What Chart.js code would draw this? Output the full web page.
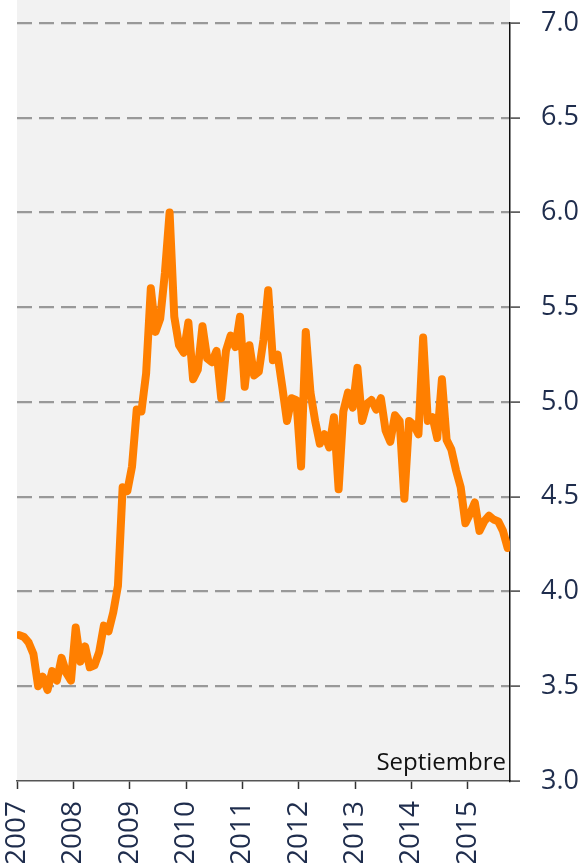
<!DOCTYPE html>
<html>
<head>
<meta charset="utf-8">
<script src="https://cdn.jsdelivr.net/npm/chart.js@4.4.1/dist/chart.umd.min.js"></script>
<style>
  html, body { margin: 0; padding: 0; background: #fff; }
  #wrap { width: 583px; height: 863px; }
</style>
</head>
<body>
<div id="wrap"><canvas id="myChart" width="583" height="863"></canvas></div>
<script>
// monthly values, Jan 2007 .. Sep 2015
const values = [
  3.77, 3.76, 3.73, 3.67, 3.50, 3.55, 3.48, 3.58, 3.53, 3.65, 3.57, 3.53,
  3.81, 3.63, 3.71, 3.60, 3.61, 3.68, 3.82, 3.79, 3.89, 4.03, 4.55, 4.53,
  4.66, 4.96, 4.95, 5.15, 5.60, 5.37, 5.44, 5.68, 6.00, 5.45, 5.30, 5.26,
  5.42, 5.12, 5.17, 5.40, 5.23, 5.21, 5.27, 5.02, 5.27, 5.35, 5.29, 5.45,
  5.08, 5.30, 5.14, 5.16, 5.33, 5.59, 5.22, 5.25, 5.08, 4.90, 5.02, 5.01,
  4.66, 5.37, 5.05, 4.90, 4.78, 4.83, 4.76, 4.92, 4.54, 4.95, 5.05, 4.97,
  5.18, 4.90, 4.99, 5.01, 4.96, 5.02, 4.85, 4.79, 4.93, 4.90, 4.49, 4.90,
  4.88, 4.83, 5.34, 4.90, 4.92, 4.81, 5.12, 4.80, 4.75, 4.64, 4.55, 4.36,
  4.41, 4.47, 4.32, 4.37, 4.40, 4.38, 4.37, 4.32, 4.23
];
const years = ["2007", "2008", "2009", "2010", "2011", "2012", "2013", "2014", "2015"];
const yTicks = [3.0, 3.5, 4.0, 4.5, 5.0, 5.5, 6.0, 6.5, 7.0];
const note = "Septiembre";

const navy = "#1f2d4d";
const font = "'Open Sans', 'DejaVu Sans', sans-serif";

// gray plot background + the month note
const plotBg = {
  id: "plotBg",
  beforeDraw(chart) {
    const { ctx, chartArea } = chart;
    ctx.save();
    ctx.fillStyle = "#f2f2f2";
    ctx.fillRect(chartArea.left, 0, chartArea.right - chartArea.left, chartArea.bottom);
    ctx.restore();
  },
  afterDraw(chart) {
    const { ctx, chartArea } = chart;
    ctx.save();
    ctx.font = "24px " + font;
    ctx.fillStyle = "#111";
    ctx.textAlign = "right";
    ctx.textBaseline = "alphabetic";
    ctx.fillText(note, chartArea.right - 4, chartArea.bottom - 11);
    ctx.restore();
  }
};

const ctx = document.getElementById("myChart").getContext("2d");
new Chart(ctx, {
  type: "line",
  data: {
    datasets: [{
      data: values.map((v, i) => ({ x: i, y: v })),
      borderColor: "#ff7f00",
      borderWidth: 8,
      pointRadius: 0,
      tension: 0,
      borderJoinStyle: "round",
      borderCapStyle: "round",
      clip: 0
    }]
  },
  options: {
    responsive: false,
    animation: false,
    devicePixelRatio: 1,
    layout: { padding: { left: 17, top: 23, right: 0, bottom: 0 } },
    plugins: { legend: { display: false }, tooltip: { enabled: false } },
    scales: {
      x: {
        type: "linear",
        min: -0.5,
        max: 104.5,
        afterBuildTicks: (scale) => {
          scale.ticks = years.map((y, k) => ({ value: -0.5 + 12 * k }));
        },
        afterFit: (scale) => {
          scale.height = 82;
          scale.paddingLeft = 0;
          scale.paddingRight = 0;
        },
        ticks: {
          autoSkip: false,
          minRotation: 90,
          maxRotation: 90,
          padding: 12,
          color: navy,
          font: { family: font, size: 28 },
          callback: (v, i) => years[i]
        },
        grid: {
          drawOnChartArea: false,
          drawTicks: true,
          tickLength: 8,
          tickColor: "#333",
          tickWidth: 1.5
        },
        border: { display: true, color: "#555", width: 1.5 }
      },
      y: {
        position: "right",
        min: 3,
        max: 7,
        afterBuildTicks: (scale) => {
          scale.ticks = yTicks.map(v => ({ value: v }));
        },
        afterFit: (scale) => {
          scale.width = 73;
          scale.paddingTop = 0;
          scale.paddingBottom = 0;
        },
        ticks: {
          padding: 21,
          color: navy,
          font: { family: font, size: 27 },
          callback: (v) => Number(v).toFixed(1)
        },
        grid: {
          color: (c) => (c.tick && c.tick.value === 3 ? "rgba(0,0,0,0)" : "#999999"),
          lineWidth: 2.2,
          tickLength: 10,
          tickColor: "#444",
          tickWidth: 1.5,
          tickBorderDash: []
        },
        border: { display: true, color: "#111", width: 1.5, dash: [15, 7] }
      }
    }
  },
  plugins: [plotBg]
});
</script>
</body>
</html>
